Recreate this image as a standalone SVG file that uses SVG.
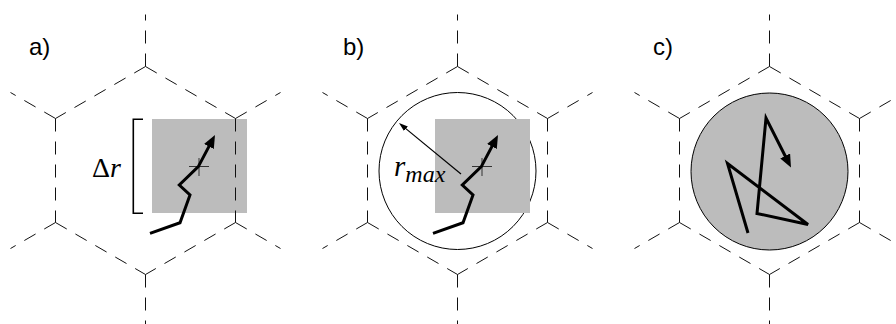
<svg xmlns="http://www.w3.org/2000/svg" xmlns:xlink="http://www.w3.org/1999/xlink" width="896" height="324" viewBox="0 0 896 324">
<style>
.hex line{stroke:#111;stroke-width:1;stroke-dasharray:13,10;fill:none}
.box{fill:#bcbcbc;stroke:none}
.walk{fill:none;stroke:#000;stroke-width:3;stroke-linejoin:miter;marker-end:url(#head)}
.plus{stroke:#333;stroke-width:1;fill:none}
.lbl{font-family:'Liberation Sans',Arial,sans-serif;font-size:24px;fill:#000}
</style>
<defs>
<marker id="head" markerUnits="userSpaceOnUse" markerWidth="14" markerHeight="12" refX="1" refY="5.5" orient="auto">
<path d="M0,0 L13,5.5 L0,11 z" fill="#000"/>
</marker>
<marker id="thin" markerUnits="userSpaceOnUse" markerWidth="10" markerHeight="7" refX="1" refY="3" orient="auto">
<path d="M0,0 L9,3 L0,6 z" fill="#000"/>
</marker>
<g id="hex" class="hex">
<line x1="0" y1="-104" x2="-90" y2="-52"/>
<line x1="0" y1="-104" x2="90" y2="-52"/>
<line x1="-90" y1="-52" x2="-90" y2="52"/>
<line x1="90" y1="-52" x2="90" y2="52"/>
<line x1="-90" y1="52" x2="0" y2="104"/>
<line x1="90" y1="52" x2="0" y2="104"/>
<line x1="0" y1="-104" x2="0" y2="-156"/>
<line x1="0" y1="104" x2="0" y2="156"/>
<line x1="-90" y1="-52" x2="-135" y2="-78"/>
<line x1="90" y1="-52" x2="135" y2="-78"/>
<line x1="-90" y1="52" x2="-135" y2="78"/>
<line x1="90" y1="52" x2="135" y2="78"/>
</g>
</defs>

<g id="panel-a">
<rect class="box" x="152" y="119" width="95" height="94"/>
<use xlink:href="#hex" href="#hex" x="145.5" y="170.5"/>
<polyline fill="none" stroke="#000" stroke-width="1.6" points="143,119.3 133.3,119.3 133.3,213.3 143,213.3"/>
<text x="92" y="177" font-family="'Liberation Serif','DejaVu Serif',serif" font-size="28" fill="#000">Δ<tspan font-style="italic">r</tspan></text>
<path class="plus" d="M189,166.5 H209 M199,158 V176"/>
<polyline class="walk" points="150,233.3 180,222.7 190,195 179.3,185 198.3,166.7 209.4,145.6"/>
<text class="lbl" x="29" y="55">a)</text>
</g>

<g id="panel-b">
<circle cx="457.5" cy="171" r="78.5" fill="none" stroke="#000" stroke-width="1"/>
<rect class="box" x="435" y="119" width="95" height="94"/>
<use xlink:href="#hex" href="#hex" x="457.5" y="170.5"/>
<text x="394" y="176" font-family="'Liberation Serif','DejaVu Serif',serif" font-size="29" font-style="italic" fill="#000">r<tspan font-size="24" dy="6">max</tspan></text>
<line x1="461" y1="174" x2="405.2" y2="128.1" stroke="#000" stroke-width="1.2" marker-end="url(#thin)"/>
<path class="plus" d="M472,166.5 H492 M482,158 V176"/>
<polyline class="walk" points="433,233.3 463,222.7 473,195 462.3,185 481.3,166.7 492.4,145.6"/>
<text class="lbl" x="343" y="55">b)</text>
</g>

<g id="panel-c">
<circle cx="769.5" cy="171.5" r="78.5" fill="#bcbcbc" stroke="#000" stroke-width="1"/>
<use xlink:href="#hex" href="#hex" x="769.5" y="170.5"/>
<polyline class="walk" points="748,233 727.5,163.5 808,224.5 757,213.5 766,118 785.6,156.8"/>
<text class="lbl" x="653" y="55">c)</text>
</g>
</svg>
